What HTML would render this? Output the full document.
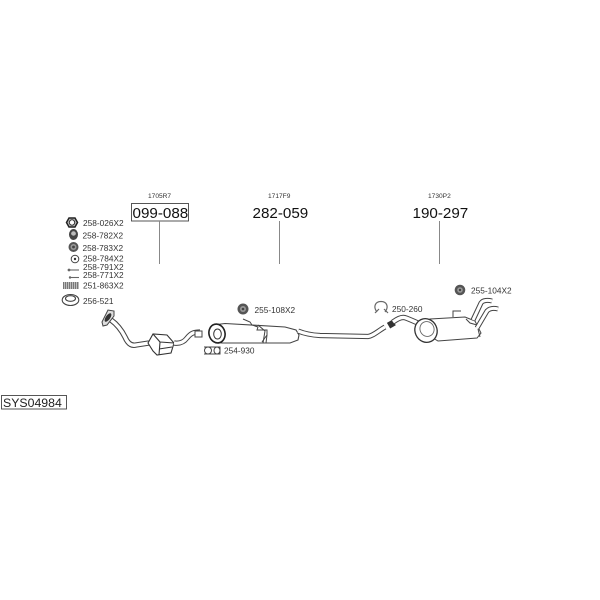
<!DOCTYPE html>
<html><head><meta charset="utf-8"><style>
html,body{margin:0;padding:0;background:#fff}
svg{display:block;filter:blur(.35px)}
text{font-family:"Liberation Sans",sans-serif;fill:#333}
.s{font-size:8.3px}
.t{font-size:6.6px;fill:#333}
.b{font-size:15.2px;fill:#111}
.p{fill:#fff;stroke:#444;stroke-width:1}
.l{fill:none;stroke:#444;stroke-width:1}
</style></head><body>
<svg width="600" height="600" viewBox="0 0 600 600" xmlns="http://www.w3.org/2000/svg">
<rect width="600" height="600" fill="#fff"/>
<text class="t" x="148" y="198">1705R7</text>
<text class="t" x="268" y="198">1717F9</text>
<text class="t" x="428" y="198">1730P2</text>
<rect x="131.500" y="203.500" width="57" height="17.500" fill="#fff" stroke="#444" stroke-width=".9"/>
<text class="b" x="132.500" y="218">099-088</text>
<text class="b" x="252.500" y="218">282-059</text>
<text class="b" x="412.500" y="218">190-297</text>
<path d="M159.500 221V264M279.500 221V264M439.500 221V264" stroke="#888" stroke-width="1" fill="none"/>

<text class="s" x="83" y="226">258-026X2</text>
<text class="s" x="82.500" y="238.500">258-782X2</text>
<text class="s" x="82.500" y="251">258-783X2</text>
<text class="s" x="83" y="261.500">258-784X2</text>
<text class="s" x="83" y="270">258-791X2</text>
<text class="s" x="83" y="278">258-771X2</text>
<text class="s" x="83" y="288.500">251-863X2</text>
<text class="s" x="83" y="304">256-521</text>
<text class="s" x="254.500" y="313">255-108X2</text>
<text class="s" x="224" y="353.500">254-930</text>
<text class="s" x="392" y="312">250-260</text>
<text class="s" x="471" y="293.500">255-104X2</text>

<polygon points="66.500,222.500 69,218 75,218 77.500,222.500 75,227 69,227" fill="#bbb" stroke="#222" stroke-width="1.500"/>
<circle cx="72" cy="222.500" r="2.700" fill="#fff" stroke="#333" stroke-width="1"/>
<ellipse cx="73.500" cy="234.500" rx="4.500" ry="5.500" fill="#444"/><ellipse cx="73.500" cy="233.500" rx="2.400" ry="2.200" fill="#bbb"/>
<circle cx="73.500" cy="247" r="5" fill="#555"/><circle cx="73.500" cy="247" r="3" fill="#999"/><circle cx="73.500" cy="247" r="1.400" fill="#444"/>
<circle cx="75" cy="259" r="3.800" fill="#fff" stroke="#444" stroke-width="1"/><circle cx="75" cy="259" r="1.200" fill="#333"/>
<path d="M68 270H79" stroke="#666" stroke-width="1.100"/><circle cx="69" cy="270" r="1.400" fill="#666"/>
<path d="M69 277.500H79" stroke="#666" stroke-width="1.100"/><circle cx="70" cy="277.500" r="1.200" fill="#666"/>
<rect x="63" y="282" width="15.500" height="7" fill="#777"/>
<path d="M64.500 282v7M66.500 282v7M68.500 282v7M70.500 282v7M72.500 282v7M74.500 282v7M76.500 282v7" stroke="#ddd" stroke-width=".7"/>
<ellipse cx="70.500" cy="300" rx="8.300" ry="5.500" fill="#fff" stroke="#444" stroke-width="1.100"/>
<ellipse cx="70.500" cy="298.500" rx="5" ry="2.800" fill="#fff" stroke="#444" stroke-width="1.100"/>

<!-- front pipe -->
<path d="M111 320C118 325 122 331 125 337C128 344 132 346 136 345L149 343" fill="none" stroke="#444" stroke-width="5.400"/>
<path d="M111 320C118 325 122 331 125 337C128 344 132 346 136 345L149 343" fill="none" stroke="#fff" stroke-width="3.400"/>
<polygon points="102,322 108,310 114,311 114,316 107,325 103,326" fill="#ddd" stroke="#444" stroke-width="1"/>
<ellipse cx="108" cy="317.500" rx="2.200" ry="5" transform="rotate(35 108 317.500)" fill="#333"/>
<!-- catalytic converter -->
<polygon points="148,343 153,334 167,335 174,343 171,353 157,355 153,351" fill="#fff" stroke="#333" stroke-width="1.100"/>
<path d="M153 334 160 342 159 355M160 342 174 343M159 349 172 347" fill="none" stroke="#333" stroke-width="1.100"/>
<path d="M174 343C180 344 184 342 187 338C191 333 194 332 200 332" fill="none" stroke="#444" stroke-width="5.200"/>
<path d="M174 343C180 344 184 342 187 338C191 333 194 332 200 332" fill="none" stroke="#fff" stroke-width="3.200"/>
<!-- middle silencer -->
<polygon points="213,325 225,323.500 285,327 296,330 299,335 298,340 290,343 222,343 214,342" fill="#fff" stroke="#444" stroke-width="1.100"/>
<ellipse cx="217" cy="333.500" rx="8" ry="9.500" transform="rotate(-15 217 333.500)" fill="#fff" stroke="#222" stroke-width="1.600"/>
<ellipse cx="217.500" cy="334" rx="3.800" ry="5" fill="#fff" stroke="#333" stroke-width="1"/>
<path d="M243 319 250 322 252 325 258 327 257 330 267 330 267 335 262 342" class="l"/>
<path d="M258 325 265 331 263 343M266 343 267 335" class="l"/>
<rect x="195" y="331" width="7" height="6" fill="#fff" stroke="#444" stroke-width="1"/>
<!-- middle pipe -->
<path d="M298 331C303 333 310 335 320 335.500L368 336.500C373 336 378 331 385 327" fill="none" stroke="#444" stroke-width="5.200"/>
<path d="M298 331C303 333 310 335 320 335.500L368 336.500C373 336 378 331 385 327" fill="none" stroke="#fff" stroke-width="3.200"/>
<circle cx="243" cy="309" r="5.500" fill="#555"/><circle cx="243" cy="309" r="3" fill="#999"/><circle cx="243" cy="309" r="1.300" fill="#444"/>
<!-- clamp 254-930 -->
<ellipse cx="208" cy="350.500" rx="3.500" ry="3.500" class="p"/><ellipse cx="217" cy="350.500" rx="3" ry="3.500" class="p"/>
<path d="M204 347 220 347 220 354 204 354" class="l"/>
<!-- clamp 250-260 -->
<path d="M377 312C373 307 375 301.500 381 301.500C387 301.500 389 307 385 312M375 313 379 309M388 313 384 309" fill="none" stroke="#666" stroke-width="1.200"/>
<!-- connector rear -->
<rect x="388" y="321" width="6.500" height="6.500" transform="rotate(-30 391 324)" fill="#333"/>
<circle cx="460" cy="290" r="5.300" fill="#555"/><circle cx="460" cy="290" r="2.800" fill="#999"/><circle cx="460" cy="290" r="1.200" fill="#444"/>
<!-- rear silencer -->
<path d="M393 322C397 319 402 316 406 318C414 321 422 325 431 329" fill="none" stroke="#444" stroke-width="5.400"/>
<path d="M393 322C397 319 402 316 406 318C414 321 422 325 431 329" fill="none" stroke="#fff" stroke-width="3.400"/>
<polygon points="430,319 465,317 475,321 481,333 477,338 438,341 428,335" fill="#fff" stroke="#444" stroke-width="1"/>
<ellipse cx="426" cy="330.500" rx="11" ry="12" transform="rotate(-25 426 330.500)" fill="#fff" stroke="#333" stroke-width="1.300"/>
<ellipse cx="427" cy="329" rx="7" ry="7.500" transform="rotate(-25 427 329)" fill="#fff" stroke="#666" stroke-width=".9"/>
<path d="M473 320 481 303C483 300 488 300 492 301" fill="none" stroke="#444" stroke-width="5"/>
<path d="M473 320 481 303C483 300 488 300 492 301" fill="none" stroke="#fff" stroke-width="3"/>
<path d="M477 328 487 311C490 308 494 308 498 309" fill="none" stroke="#444" stroke-width="5"/>
<path d="M477 328 487 311C490 308 494 308 498 309" fill="none" stroke="#fff" stroke-width="3"/>
<path d="M453 317 453 311 461 311M466 319 470 323 477 325M478 329 480 337" class="l"/>

<rect x="1.500" y="395.500" width="65" height="13.500" fill="#fff" stroke="#444" stroke-width=".9"/>
<text x="3" y="407" style="font-size:12.300px;fill:#222">SYS04984</text>
</svg>
</body></html>
